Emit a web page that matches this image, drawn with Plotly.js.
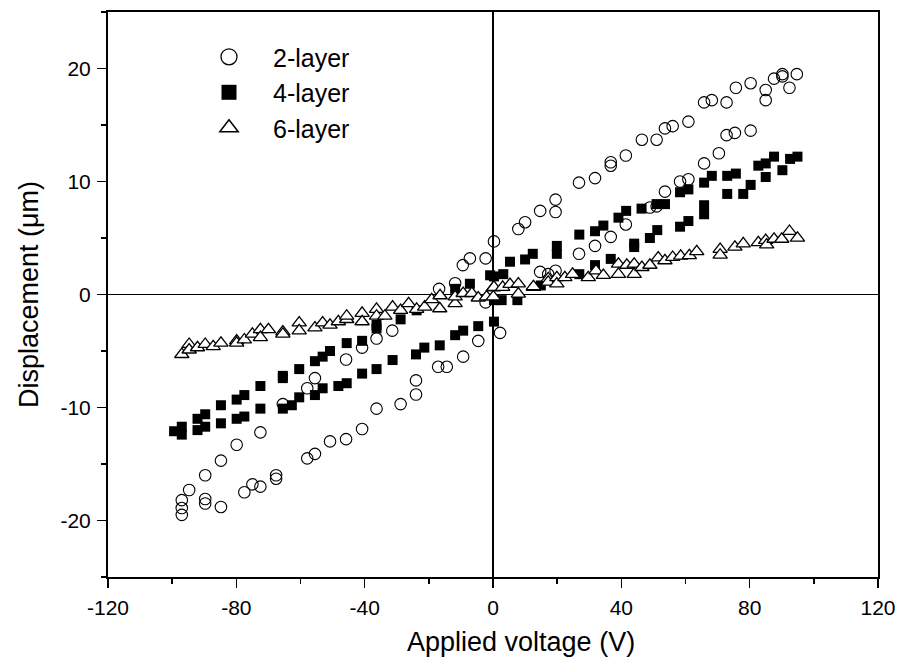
<!DOCTYPE html>
<html>
<head>
<meta charset="utf-8">
<script src="https://cdn.plot.ly/plotly-3.0.1.min.js"></script>
<style>html,body{margin:0;padding:0;background:#fff;}#chart{width:900px;height:657px;}</style>
</head>
<body>
<div id="chart"></div>
<script>
// 2-layer (open circles)
const x2 = [-97,-97,-97,-89.7,-89.7,-84.8,-77.5,-75.0,-72.5,-67.6,-67.6,-57.9,-55.5,-50.8,-45.8,-40.8,-36.3,-28.8,-24.0,-24.0,-17.1,-14.4,-9.3,-4.6,-2.3,2.2,
  14.7,17.2,19.5,26.8,31.8,36.7,41.4,48.9,51.0,53.6,58.3,60.9,65.8,70.4,72.8,75.4,80.3,
  -94.7,-89.7,-84.8,-79.9,-72.5,-65.5,-57.9,-55.5,-45.8,-40.8,-36.3,-31.4,-16.8,-11.8,-9.4,-7.2,-2.3,0.3,
  7.9,10.0,14.7,19.5,19.5,26.8,31.8,36.7,36.7,41.4,46.4,51.0,53.6,56.0,60.9,65.8,68.2,72.8,75.7,80.3,85.0,85.0,87.6,90.2,90.2,92.4,94.7];
const y2 = [-18.2,-18.9,-19.5,-18.1,-18.5,-18.8,-17.5,-16.8,-17.0,-16.0,-16.3,-14.5,-14.1,-13.0,-12.8,-11.9,-10.1,-9.7,-8.85,-7.6,-6.4,-6.4,-5.5,-4.1,-0.7,-3.4,
  2.0,1.8,2.1,3.6,4.3,5.1,6.2,7.7,7.8,9.1,10.0,10.2,11.6,12.5,14.1,14.3,14.5,
  -17.3,-16.0,-14.7,-13.3,-12.2,-9.7,-8.3,-7.4,-5.75,-4.7,-3.9,-3.2,0.5,1.0,2.6,3.2,3.2,4.7,
  5.8,6.4,7.4,8.4,7.3,9.9,10.3,11.7,11.4,12.3,13.7,13.7,14.7,14.9,15.3,17.0,17.2,17.0,18.3,18.7,18.1,17.2,19.1,19.5,19.3,18.3,19.5];

// 4-layer (filled squares)
const x4 = [-99.4,-97,-92.1,-89.7,-84.8,-79.9,-77.5,-72.5,-65.5,-62.7,-60.4,-55.5,-53.1,-48.2,-45.6,-40.8,-36.3,-31.3,-24.0,-21.4,-16.6,-11.8,-9.3,-4.6,0.3,
  2.7,7.6,14.9,26.9,31.8,36.7,44,44,48.9,51.2,58.3,60.9,65.8,65.8,73.0,78.0,80.3,85.0,90.2,
  -97,-92.1,-89.7,-84.8,-79.9,-77.5,-72.5,-65.5,-65.5,-60.4,-55.5,-53.1,-50.8,-45.6,-40.8,-36.3,-36.3,-28.8,-23.8,-11.8,-7.2,0.3,-0.9,0.3,
  3.2,5.3,10.0,12.4,19.9,19.9,26.9,31.8,34.4,39.1,41.5,46.3,51.0,53.6,58.3,60.9,65.8,68.2,73.0,75.7,82.7,85.0,87.6,92.6,94.9];
const y4 = [-12.1,-12.4,-12.0,-11.7,-11.4,-11.0,-10.8,-10.1,-10.1,-9.8,-9.1,-8.9,-8.3,-8.1,-7.85,-7.0,-6.6,-5.8,-5.3,-4.7,-4.5,-3.6,-3.2,-2.8,-2.4,
  -0.5,-0.5,0.8,1.8,2.6,3.15,4.5,4.2,5.0,5.7,6.0,6.5,7.9,7.1,8.9,8.9,9.7,10.4,11.0,
  -11.7,-11.0,-10.6,-9.8,-9.3,-8.9,-8.1,-7.2,-7.4,-6.6,-5.9,-5.5,-5.0,-4.3,-4.1,-3.0,-2.7,-2.2,-1.4,0.5,0.95,1.6,1.7,-0.5,
  1.8,2.9,3.1,3.6,4.3,3.6,5.3,5.6,6.1,6.8,7.4,7.6,8.0,8.0,9.05,9.3,9.9,10.5,10.5,10.7,11.4,11.6,12.2,12.0,12.2];

// 6-layer (open triangles)
const x6 = [-97,-94.7,-94.7,-92.1,-89.7,-87.2,-84.8,-79.9,-79.9,-77.5,-75,-72.5,-72.5,-70,-65.5,-65.5,-60.4,-60.4,-55.5,-53.1,-50.8,-48.2,-45.6,-45.6,-40.8,-40.8,-36.3,-36.3,-33.7,-31.3,-28.8,-26.3,-23.8,-21.3,-19.1,-16.6,-16.5,-11.8,-11.8,-9.3,-6.6,-4.6,-2.0,0.1,0.1,
  0.3,3.0,5.3,7.9,7.9,12.6,12.6,17.2,17.2,19.9,19.9,22.4,24.8,29.7,32.1,34.4,39.1,39.1,41.7,44.0,44.0,46.4,48.9,51.5,53.6,56.0,58.5,61.2,63.5,70.8,70.8,75.4,78.0,82.7,85.0,85.3,87.6,90.0,92.4,94.9];
const y6 = [-5.3,-4.4,-4.9,-4.7,-4.4,-4.6,-4.3,-4.1,-4.3,-4.0,-3.5,-3.1,-3.8,-3.1,-3.3,-3.5,-2.5,-3.2,-2.95,-2.5,-2.7,-2.4,-2.2,-1.9,-1.65,-2.4,-1.3,-1.9,-1.9,-1.1,-1.4,-0.8,-1.3,-1.1,-0.45,-1.25,-0.1,-0.8,-0.2,0.1,0.1,-0.3,-0.2,0.6,-0.2,
  0.65,0.65,0.9,0.95,0.05,0.65,0.7,1.4,1.1,1.5,0.95,1.5,1.8,1.5,2.1,1.7,2.7,1.8,2.6,2.7,1.8,2.4,2.6,3.25,3.0,3.3,3.4,3.45,3.8,4.0,3.5,4.2,4.5,4.6,4.8,4.4,4.9,4.9,5.6,5.0];

const names = ['2-layer','4-layer','6-layer'];
const xTicks = [-120,-80,-40,0,40,80,120];
const yTicks = [-20,-10,0,10,20];
const xTitle = 'Applied voltage (V)';
const yTitle = 'Displacement (\u03bcm)';

const FONT = 'Liberation Sans, Arial, Helvetica, sans-serif';

const mk = {
  c: {symbol:'circle-open', size:11.5, color:'#000', line:{width:1.1, color:'#000'}},
  s: {symbol:'square', size:10, color:'#000', line:{width:0}},
  t: {symbol:'triangle-up', size:12.5, color:'#fff', line:{width:1.3, color:'#000'}}
};

const traces = [
  {x:x2, y:y2, mode:'markers', type:'scatter', marker:mk.c, showlegend:false, hoverinfo:'skip'},
  {x:x4, y:y4, mode:'markers', type:'scatter', marker:mk.s, showlegend:false, hoverinfo:'skip'},
  {x:x6, y:y6, mode:'markers', type:'scatter', marker:mk.t, showlegend:false, hoverinfo:'skip'},
  {x:[null], y:[null], mode:'markers', type:'scatter', name:names[0], marker:{symbol:'circle-open', size:16, color:'#000', line:{width:1.3}}},
  {x:[null], y:[null], mode:'markers', type:'scatter', name:names[1], marker:{symbol:'square', size:15, color:'#000'}},
  {x:[null], y:[null], mode:'markers', type:'scatter', name:names[2], marker:{symbol:'triangle-up', size:16, color:'#fff', line:{width:1.5, color:'#000'}}}
];

const axisCommon = {
  showgrid:false, showline:true, linecolor:'#000', linewidth:2, mirror:true,
  ticks:'outside', ticklen:9, tickwidth:1.5, tickcolor:'#000',
  zeroline:true, zerolinecolor:'#000', zerolinewidth:1.2,
  tickfont:{family:FONT, size:21, color:'#000'}
};

const layout = {
  width:900, height:657,
  margin:{l:108, r:22, t:12, b:80},
  paper_bgcolor:'#fff', plot_bgcolor:'#fff',
  font:{family:FONT, color:'#000'},
  xaxis: Object.assign({}, axisCommon, {
    range:[-120,120], tickmode:'array', tickvals:xTicks, ticktext:xTicks.map(String),
    minor:{dtick:20, tick0:0, ticks:'outside', ticklen:5, tickwidth:1.5, tickcolor:'#000', showgrid:false},
    ticklabelstandoff:2
  }),
  yaxis: Object.assign({}, axisCommon, {
    range:[-25,25], tickmode:'array', tickvals:yTicks, ticktext:yTicks.map(String),
    minor:{dtick:5, tick0:0, ticks:'outside', ticklen:5, tickwidth:1.5, tickcolor:'#000', showgrid:false},
    ticklabelstandoff:2,
    title:{text:yTitle, font:{family:FONT, size:27, color:'#000'}, standoff:14}
  }),
  annotations:[
    {text:xTitle, xref:'paper', yref:'paper', x:0.536, y:-0.085, xanchor:'center', yanchor:'top',
     showarrow:false, font:{family:FONT, size:27, color:'#000'}}
  ],
  legend:{x:0.10, y:0.961, xanchor:'left', yanchor:'top', bgcolor:'rgba(0,0,0,0)', borderwidth:0,
    font:{family:FONT, size:25, color:'#000'}, itemwidth:78, tracegroupgap:0},
  showlegend:true
};

Plotly.newPlot('chart', traces, layout, {staticPlot:true, displayModeBar:false});
</script>
</body>
</html>
